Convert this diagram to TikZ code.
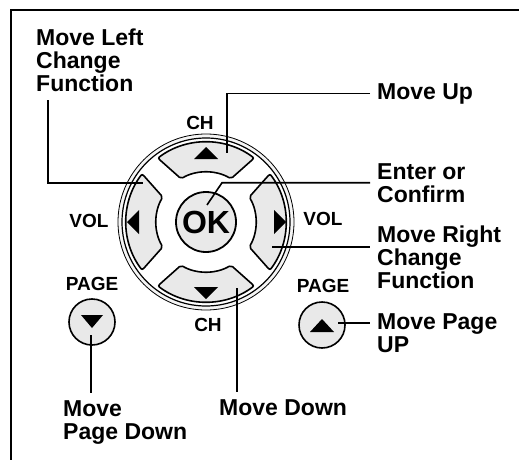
\documentclass[tikz,border=0pt]{standalone}
\usepackage{fontspec}
\setmainfont{Liberation Sans}
\begin{document}
\begin{tikzpicture}[x=1pt,y=1pt,
    label/.style={font=\bfseries\fontsize{23}{23}\selectfont,align=left,anchor=north west,inner sep=0pt},
    tag/.style={font=\bfseries\fontsize{19}{19}\selectfont,inner sep=0pt},
    padkey/.style={draw,line width=1.6pt,fill=gray!17,rounded corners=2pt},
    pagekey/.style={circle,draw,line width=1.6pt,fill=gray!17,minimum size=46pt,inner sep=0pt},
    wire/.style={line width=1.6pt}]
    \clip (0,0) rectangle (519,459);
    % frame
    \draw[line width=1.4pt] (11,-10) -- (11,449) -- (530,449);
    % direction pad
    \coordinate (pad) at (206,237);
    \draw[line width=0.8pt,fill=gray!8] (pad) circle[radius=88pt];
    \draw[line width=1.2pt,fill=white] (pad) circle[radius=84pt];
    \foreach \a in {0,90,180,270}
        {\draw[padkey] ([shift={(\a-37:80pt)}]pad) arc[start angle=\a-37,end angle=\a+37,radius=80pt]
            -- ([shift={(\a+30:50pt)}]pad) arc[start angle=\a+30,end angle=\a-30,radius=50pt] -- cycle;
        }
    \foreach \a/\r in {0/74,90/69,180/73,270/71}
        {\fill[shift={(pad)},rotate=\a] (\r+6,0) -- (\r-6,12) -- (\r-6,-12) -- cycle;
        }
    \node[circle,draw,line width=1.8pt,fill=gray!17,minimum size=60pt,inner sep=0pt,
        font=\bfseries\fontsize{32}{32}\selectfont] (ok) at (pad) {OK};
    % page keys
    \node[pagekey] (pgdown) at (92,137) {};
    \node[pagekey] (pgup) at (322,134) {};
    \fill ([shift={(-11,7)}]pgdown.center) -- ([shift={(11,7)}]pgdown.center) -- ([shift={(0,-6)}]pgdown.center) -- cycle;
    \fill ([shift={(-12,-7)}]pgup.center) -- ([shift={(12,-7)}]pgup.center) -- ([shift={(0,6)}]pgup.center) -- cycle;
    % key tags
    \node[tag] (chup) at (200,336) {CH};
    \node[tag] (chdown) at (208,134) {CH};
    \node[tag] (volleft) at (89,238) {VOL};
    \node[tag] (volright) at (323,240) {VOL};
    \node[tag] (pgleft) at (92,175) {PAGE};
    \node[tag] (pgright) at (323,173) {PAGE};
    % labels
    \node[label] (left) at (36,430) {Move Left\\Change\\Function};
    \node[label] (up) at (377,376) {Move Up};
    \node[label] (enter) at (377,296) {Enter or\\Confirm};
    \node[label] (right) at (377,233) {Move Right\\Change\\Function};
    \node[label] (pageup) at (377,146) {Move Page\\UP};
    \node[label] (down) at (219,60) {Move Down};
    \node[label] (pagedown) at (63,59) {Move\\Page Down};
    % connector ends
    \coordinate (upend) at (227,306);
    \coordinate (okend) at (207,254);
    \coordinate (rightend) at (272,212);
    \coordinate (leftend) at (143,276);
    \coordinate (downend) at (237,171);
    \coordinate (pgupend) at (338,136);
    \coordinate (pgdownend) at (91,124);
    % connectors
    \draw[wire] ([xshift=-7pt]up.west) -| (upend);
    \draw[wire] ([xshift=-7pt]enter.west) -- ++(-148,0) -- (okend);
    \draw[wire] (rightend) -- ([xshift=-7pt]rightend -| right.west);
    \draw[wire] (pgupend) -- ([xshift=-7pt]pgupend -| pageup.west);
    \draw[wire] ([xshift=12pt,yshift=-8pt]left.south west) |- (leftend);
    \draw[wire] (downend) -- ([yshift=7pt]downend |- down.north);
    \draw[wire] (pgdownend) -- ([yshift=7pt]pgdownend |- pagedown.north);
\end{tikzpicture}
\end{document}
